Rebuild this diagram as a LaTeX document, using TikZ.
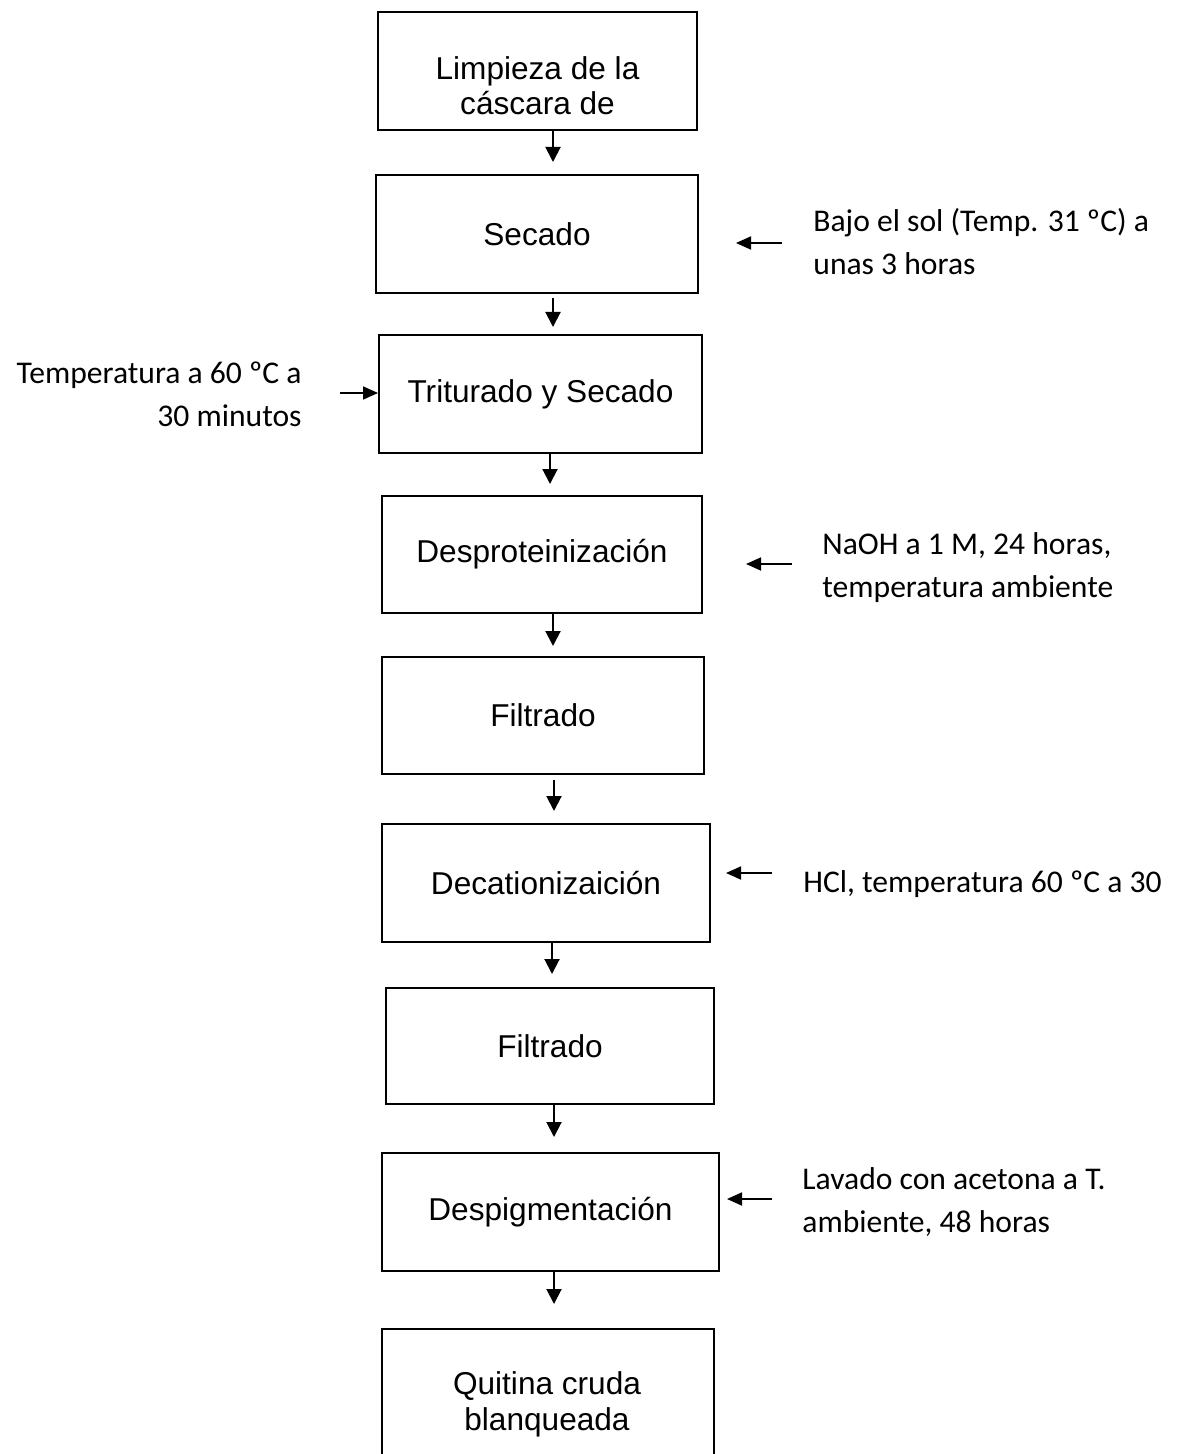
\documentclass[tikz,border=0pt]{standalone}
\usepackage{fontspec}
\setmainfont{Liberation Sans}
\newfontfamily\calib{Carlito}
\usetikzlibrary{arrows.meta}
\begin{document}
\begin{tikzpicture}[x=0.5pt,y=-0.5pt,
  box/.style={draw, line width=1pt, inner sep=0pt, align=center, font=\fontsize{15.8}{18}\selectfont},
  boxtxt/.style={inner sep=0pt, align=center, font=\fontsize{15.8}{17.8}\selectfont},
  side/.style={inner sep=0pt, font=\calib\fontsize{15.8}{21.5}\selectfont},
  arr/.style={line width=1pt, -{Triangle[length=7.5pt,width=7.5pt]}},
  sarr/.style={line width=0.9pt, -{Triangle[length=7.5pt,width=6.5pt]}}]
\useasboundingbox (0,0) rectangle (1178,1454);
\clip (0,0) rectangle (1178,1454);
\fill[white] (0,0) rectangle (1178,1454);
% boxes
\node[box, minimum width=159.5pt, minimum height=59pt] (b1) at (537.5,71) {};
\node[boxtxt, anchor=base] (t1box) at (537.5,115) {Limpieza de la\\cáscara de};
\node[box, minimum width=161pt, minimum height=59pt] (b2) at (537,234) {Secado};
\node[box, minimum width=161.5pt, minimum height=59pt] (b3) at (540.5,394) {Triturado y Secado};
\node[box, minimum width=160pt, minimum height=58.5pt] (b4) at (542,554.5) {Desproteinización};
\node[box, minimum width=161pt, minimum height=58.5pt] (b5) at (543,715.5) {Filtrado};
\node[box, minimum width=164pt, minimum height=59pt] (b6) at (546,883) {Decationizaición};
\node[box, minimum width=164pt, minimum height=58pt] (b7) at (550,1046) {Filtrado};
\node[box, minimum width=168.5pt, minimum height=59pt] (b8) at (550.5,1212) {Despigmentación};
\node[box, minimum width=166pt, minimum height=70.5pt] (b9) at (548,1399.5) {};
\node[boxtxt, anchor=base] (t9box) at (547,1430) {Quitina cruda\\blanqueada};
% main arrows
\draw[arr, shorten >=6pt] (b1.south -| 553,0) -- (b2.north -| 553,0);
\draw[arr, shorten >=3.5pt, shorten <=2pt] (b2.south -| 553,0) -- (b3.north -| 553,0);
\draw[arr, shorten >=5.5pt] (b3.south -| 550,0) -- (b4.north -| 550,0);
\draw[arr, shorten >=5pt] (b4.south -| 553,0) -- (b5.north -| 553,0);
\draw[arr, shorten >=6pt, shorten <=2.5pt] (b5.south -| 554,0) -- (b6.north -| 554,0);
\draw[arr, shorten >=6.5pt] (b6.south -| 552,0) -- (b7.north -| 552,0);
\draw[arr, shorten >=7.5pt] (b7.south -| 554,0) -- (b8.north -| 554,0);
\draw[arr, shorten >=12pt] (b8.south -| 554,0) -- (b9.north -| 554,0);
% side notes
\node[side, anchor=base west, align=left] (n1) at (813,275) {Bajo el sol (Temp. 31 ºC) a\\unas 3 horas};
\node[side, anchor=base east, align=right] (n2) at (302,427) {Temperatura a 60 ºC a\\30 minutos};
\node[side, anchor=base west, align=left] (n3) at (822,597) {NaOH a 1 M, 24 horas,\\temperatura ambiente};
\node[side, anchor=base west, align=left] (n4) at (803,892) {HCl, temperatura 60 ºC a 30};
\node[side, anchor=base west, align=left] (n5) at (802,1232) {Lavado con acetona a T.\\ambiente, 48 horas};
% side arrows
\coordinate (s1) at (782,243);
\coordinate (s2) at (340,393);
\coordinate (s3) at (792,564);
\coordinate (s4) at (772,873);
\coordinate (s5) at (772,1199);
\draw[sarr, shorten >=18.5pt] (s1) -- (b2.east |- s1);
\draw[sarr] (s2) -- (b3.west |- s2);
\draw[sarr, shorten >=21.5pt] (s3) -- (b4.east |- s3);
\draw[sarr, shorten >=7.5pt] (s4) -- (b6.east |- s4);
\draw[sarr, shorten >=3.5pt] (s5) -- (b8.east |- s5);
\end{tikzpicture}
\end{document}
